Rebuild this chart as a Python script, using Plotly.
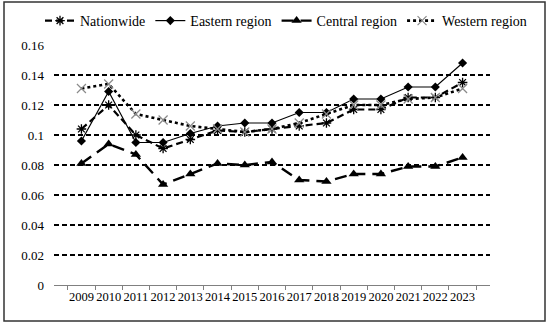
import plotly.graph_objects as go

years = ["2009", "2010", "2011", "2012", "2013", "2014", "2015", "2016",
         "2017", "2018", "2019", "2020", "2021", "2022", "2023"]
nationwide = [0.104, 0.120, 0.100, 0.091, 0.097, 0.103, 0.102, 0.104,
              0.106, 0.108, 0.117, 0.117, 0.125, 0.125, 0.135]
eastern = [0.096, 0.129, 0.095, 0.095, 0.101, 0.106, 0.108, 0.108,
           0.115, 0.115, 0.124, 0.124, 0.132, 0.132, 0.148]
central = [0.081, 0.094, 0.087, 0.067, 0.074, 0.081, 0.080, 0.082,
           0.070, 0.069, 0.074, 0.074, 0.079, 0.079, 0.085]
western = [0.131, 0.134, 0.114, 0.110, 0.106, 0.104, 0.102, 0.104,
           0.108, 0.114, 0.120, 0.120, 0.124, 0.125, 0.131]
y_ticks = [0, 0.02, 0.04, 0.06, 0.08, 0.1, 0.12, 0.14, 0.16]
y_labels = ["0", "0.02", "0.04", "0.06", "0.08", "0.1", "0.12", "0.14", "0.16"]

W, H = 550, 327
L, R, T, B = 54, 60, 45, 42
PW, PH = W - L - R, H - T - B

FONT = "Liberation Serif, Times New Roman, serif"

fig = go.Figure()
fig.add_trace(go.Scatter(
    x=years, y=nationwide, name="Nationwide", mode="lines+markers",
    line=dict(color="black", width=2.2, dash="7px,4px"),
    marker=dict(symbol="asterisk-open", size=8, color="black", line=dict(width=1.3, color="black"))))
fig.add_trace(go.Scatter(
    x=years, y=eastern, name="Eastern region", mode="lines+markers",
    line=dict(color="black", width=1.2),
    marker=dict(symbol="diamond", size=7, color="black")))
fig.add_trace(go.Scatter(
    x=years, y=central, name="Central region", mode="lines+markers",
    line=dict(color="black", width=2.4, dash="12px,7px"),
    marker=dict(symbol="triangle-up", size=9, color="black")))
fig.add_trace(go.Scatter(
    x=years, y=western, name="Western region", mode="lines+markers",
    line=dict(color="black", width=2.6, dash="dot"),
    marker=dict(symbol="x-thin-open", size=9, color="#8a8a8a", line=dict(width=1.2, color="#8a8a8a"))))

def px_x(p):
    return (p - L) / PW

def px_y(p):
    return (H - B - p) / PH

fig.add_shape(type="rect", xref="paper", yref="paper",
              x0=px_x(4), x1=px_x(545), y0=px_y(321), y1=px_y(2),
              line=dict(color="#333333", width=1.5), fillcolor="rgba(0,0,0,0)", layer="below")

fig.update_layout(
    width=W, height=H,
    margin=dict(l=L, r=R, t=T, b=B, autoexpand=False),
    paper_bgcolor="white", plot_bgcolor="white",
    font=dict(family=FONT, size=13, color="black"),
    hovermode=False,
    showlegend=True,
    legend=dict(orientation="h", x=px_x(40), xanchor="left", y=px_y(21), yanchor="middle",
                font=dict(family=FONT, size=14, color="black"),
                bgcolor="rgba(0,0,0,0)", itemwidth=30, tracegroupgap=0),
    xaxis=dict(type="category", showgrid=False, showline=True, linecolor="#808080", linewidth=1,
               ticks="outside", tickson="boundaries", ticklen=4, tickcolor="#808080",
               tickangle=0, automargin=False,
               tickfont=dict(family=FONT, size=12.5), zeroline=False, fixedrange=True),
    yaxis=dict(range=[0, 0.16], tickvals=y_ticks, ticktext=y_labels, showgrid=True,
               gridcolor="black", gridwidth=1.2, griddash="5px,3px", zeroline=False,
               showline=False, ticks="", ticklabelstandoff=9, automargin=False,
               fixedrange=True, tickfont=dict(family=FONT, size=13)),
)

fig.write_html("out.html",
               config={"displayModeBar": False, "staticPlot": True},
               post_script="document.body.style.margin='0';document.body.style.overflow='hidden';")
